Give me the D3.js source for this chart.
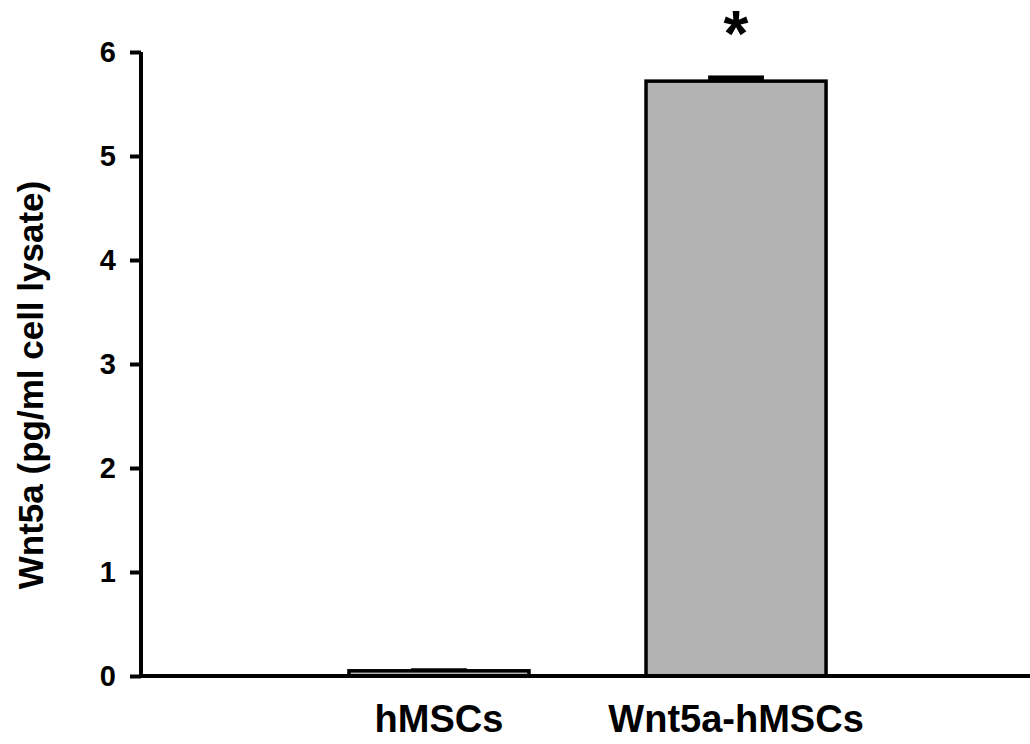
<!DOCTYPE html>
<html>
<head>
<meta charset="utf-8">
<script src="https://cdn.jsdelivr.net/npm/d3@7"></script>
<style>
body { margin: 0; background: #fff; }
text { font-family: Arial, "Liberation Sans", sans-serif; font-weight: bold; }
</style>
</head>
<body>
<svg id="vis" width="1030" height="744"></svg>
<script>
// data
var groups = ["hMSCs", "Wnt5a-hMSCs"];
var means = [0.05, 5.72];
var errs = [0.01, 0.04];
var sig = ["", "*"];
var yTicks = [0, 1, 2, 3, 4, 5, 6];

var svg = d3.select("#vis");

var x = d3.scaleBand().domain(groups).range([141, 1034])
  .paddingInner(0.394).paddingOuter(0.70);
var y = d3.scaleLinear().domain([0, 6]).range([676, 52]);

// bars
svg.selectAll(".bar").data(groups).enter().append("rect")
  .attr("x", function(d) { return x(d); })
  .attr("y", function(d, i) { return y(means[i]); })
  .attr("width", x.bandwidth())
  .attr("height", function(d, i) { return y(0) - y(means[i]); })
  .attr("fill", "#b3b3b3")
  .attr("stroke", "#000")
  .attr("stroke-width", 3.5);

// error caps (only the upper part shows)
var capW = x.bandwidth() * 0.31;
svg.selectAll(".err").data(groups).enter().append("rect")
  .attr("x", function(d) { return x(d) + x.bandwidth() / 2 - capW / 2; })
  .attr("y", function(d, i) { return y(means[i] + errs[i]) - 1.5; })
  .attr("width", capW)
  .attr("height", function(d, i) { return y(means[i]) - y(means[i] + errs[i]) + 1.5; })
  .attr("fill", "#000");

// asterisk
svg.selectAll(".sig").data(groups).enter().append("text")
  .attr("x", function(d) { return x(d) + x.bandwidth() / 2; })
  .attr("y", function(d, i) { return y(means[i] + errs[i]) - 21; })
  .attr("text-anchor", "middle")
  .style("font-size", "64px")
  .text(function(d, i) { return sig[i]; });

// y axis
var yAxis = svg.append("g").attr("transform", "translate(141,0)")
  .call(d3.axisLeft(y).tickValues(yTicks).tickSize(11).tickPadding(14).tickFormat(d3.format("d")));
yAxis.select(".domain").attr("stroke-width", 4).attr("d", "M0," + y(6) + "V" + y(0));
yAxis.selectAll(".tick line").attr("stroke-width", 4);
yAxis.selectAll(".tick text").style("font-size", "29px").attr("fill", "#000");

// x axis
var xAxis = svg.append("g").attr("transform", "translate(0,676)")
  .call(d3.axisBottom(x).tickSize(0).tickPadding(29));
xAxis.select(".domain").attr("stroke-width", 4).attr("d", "M141,0H1030");
xAxis.selectAll(".tick text").style("font-size", "38px").attr("fill", "#000");

// y label
svg.append("text")
  .attr("transform", "translate(43," + 385 + ") rotate(-90)")
  .attr("text-anchor", "middle")
  .style("font-size", "35px")
  .text("Wnt5a (pg/ml cell lysate)");
</script>
</body>
</html>
